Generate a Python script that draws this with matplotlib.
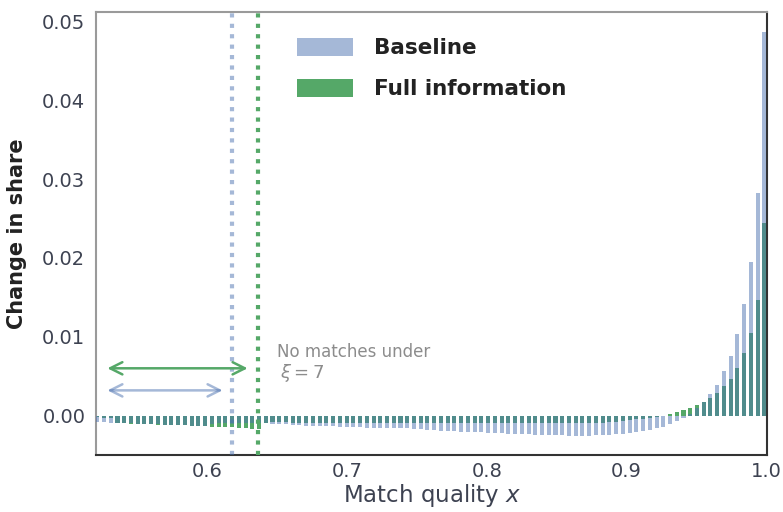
import numpy as np
import matplotlib
matplotlib.use("Agg")
import matplotlib.pyplot as plt

# ---- data ----
n_bins = 100
x_first, x_last = 0.5211, 0.9986
quality = np.linspace(x_first, x_last, n_bins)

baseline = [
    -0.00087, -0.00087, -0.00095, -0.00091, -0.00091, -0.00091, -0.00104, -0.00104, -0.00104, -0.00104,
    -0.00116, -0.00116, -0.00116, -0.00125, -0.00129, -0.00129, -0.00129, -0.00112, -0.00100, -0.00100,
    -0.00100, -0.00100, -0.00100, -0.00100, -0.00100, -0.00099, -0.00112, -0.00112, -0.00112, -0.00116,
    -0.00116, -0.00129, -0.00129, -0.00129, -0.00129, -0.00129, -0.00142, -0.00142, -0.00142, -0.00142,
    -0.00154, -0.00154, -0.00154, -0.00154, -0.00163, -0.00163, -0.00163, -0.00170, -0.00170, -0.00180,
    -0.00180, -0.00192, -0.00192, -0.00192, -0.00205, -0.00205, -0.00205, -0.00205, -0.00218, -0.00218,
    -0.00218, -0.00230, -0.00230, -0.00230, -0.00230, -0.00243, -0.00243, -0.00243, -0.00243, -0.00243,
    -0.00256, -0.00256, -0.00256, -0.00256, -0.00243, -0.00243, -0.00243, -0.00230, -0.00235, -0.00218,
    -0.00210, -0.00197, -0.00184, -0.00159, -0.00146, -0.00104, -0.00066, -0.00028, 0.00023, 0.00095,
    0.00178, 0.0028, 0.0039, 0.0056, 0.0076, 0.0103, 0.0141, 0.0195, 0.0283, 0.0487,
]

full_info = [
    -0.00020, -0.00030, -0.00028, -0.00091, -0.00091, -0.00104, -0.00104, -0.00104, -0.00104, -0.00116,
    -0.00116, -0.00116, -0.00116, -0.00125, -0.00129, -0.00129, -0.00129, -0.00142, -0.00142, -0.00142,
    -0.00150, -0.00154, -0.00154, -0.00167, -0.00167, -0.00099, -0.00078, -0.00080, -0.00080, -0.00090,
    -0.00090, -0.00090, -0.00090, -0.00090, -0.00090, -0.00090, -0.00090, -0.00090, -0.00090, -0.00095,
    -0.00095, -0.00095, -0.00095, -0.00095, -0.00095, -0.00095, -0.00095, -0.00100, -0.00100, -0.00100,
    -0.00100, -0.00100, -0.00100, -0.00100, -0.00100, -0.00100, -0.00100, -0.00100, -0.00100, -0.00100,
    -0.00100, -0.00100, -0.00100, -0.00100, -0.00100, -0.00100, -0.00100, -0.00100, -0.00100, -0.00100,
    -0.00100, -0.00100, -0.00090, -0.00090, -0.00090, -0.00090, -0.00080, -0.00080, -0.00070, -0.00057,
    -0.00044, -0.00044, -0.00030, -0.00020, -0.00010, 0.00015, 0.00044, 0.00072, 0.00095, 0.00133,
    0.00178, 0.00225, 0.0029, 0.0037, 0.0047, 0.0061, 0.0079, 0.0105, 0.0147, 0.0244,
]

cutoff_baseline = 0.6177
cutoff_full = 0.6363
series_labels = ["Baseline", "Full information"]
annotation = "No matches under"
xi_label = r"$\xi = 7$"

blue = "#4c72b0"
green = "#55a868"
tick_color = "#3d4251"

fig = plt.figure(figsize=(7.83, 5.12), dpi=100)
ax = fig.add_axes([0.1232, 0.1113, 0.9796 - 0.1232, 0.9766 - 0.1113])

width = 0.0029
ax.bar(quality, full_info, width=width, color=green, label=series_labels[1], zorder=2)
ax.bar(quality, baseline, width=width, color=blue, alpha=0.5, label=series_labels[0], zorder=3)

ax.axvline(cutoff_baseline, color=blue, alpha=0.5, lw=3, ls=(0, (1, 1.5)), zorder=4)
ax.axvline(cutoff_full, color=green, lw=3, ls=(0, (1, 1.5)), zorder=4)

# arrows
ax.annotate("", xy=(0.5283, 0.0060), xytext=(cutoff_full - 0.0076, 0.0060),
            arrowprops=dict(arrowstyle="<->", color=green, lw=1.8,
                            mutation_scale=22, shrinkA=0, shrinkB=0), zorder=5)
ax.annotate("", xy=(0.5283, 0.0032), xytext=(cutoff_baseline - 0.0069, 0.0032),
            arrowprops=dict(arrowstyle="<->", color=blue, alpha=0.5, lw=1.8,
                            mutation_scale=22, shrinkA=0, shrinkB=0), zorder=5)

ax.text(0.650, 0.0081, annotation, color="#8c8c8c", fontsize=12, va="center", ha="left")
ax.text(0.652, 0.0054, xi_label, color="#8c8c8c", fontsize=13, va="center", ha="left")

ax.set_xlim(0.5205, 1.0005)
ax.set_ylim(-0.0050, 0.0512)
ax.set_xticks([0.6, 0.7, 0.8, 0.9, 1.0])
ax.set_xticklabels(["0.6", "0.7", "0.8", "0.9", "1.0"])
ax.set_yticks([0.0, 0.01, 0.02, 0.03, 0.04, 0.05])
ax.set_yticklabels(["0.00", "0.01", "0.02", "0.03", "0.04", "0.05"])
ax.tick_params(axis="both", length=0, labelsize=14, labelcolor=tick_color)
ax.tick_params(axis="x", pad=5)
ax.tick_params(axis="y", pad=8)

ax.set_ylabel("Change in share", fontsize=15, fontweight="bold", color="#222222", labelpad=11)
ax.set_xlabel(r"Match quality $x$", fontsize=16.5, color=tick_color, labelpad=1)

for side in ["left", "top"]:
    ax.spines[side].set_color("#9a9a9a")
    ax.spines[side].set_linewidth(1.5)
for side in ["right", "bottom"]:
    ax.spines[side].set_color("#333333")
    ax.spines[side].set_linewidth(1.5)

handles, labels = ax.get_legend_handles_labels()
order = [1, 0]
leg = ax.legend([handles[i] for i in order], [labels[i] for i in order],
                loc="upper left", bbox_to_anchor=(0.27, 0.985), frameon=False,
                prop={"size": 15.5, "weight": "bold"}, handlelength=2.6, handleheight=0.9,
                handletextpad=1.0, labelspacing=0.95)
for t in leg.get_texts():
    t.set_color("#222222")

fig.savefig("out.png", dpi=100)
